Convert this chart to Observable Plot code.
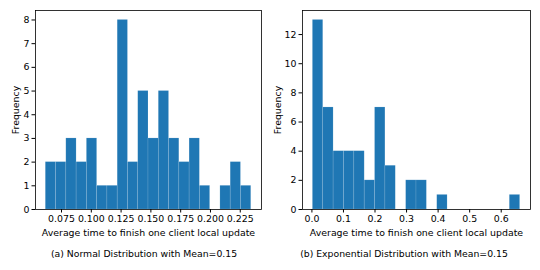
<!DOCTYPE html>
<html>
<head>
<meta charset="utf-8">
<script src="https://cdn.jsdelivr.net/npm/d3@7"></script>
<script src="https://cdn.jsdelivr.net/npm/@observablehq/plot@0.6"></script>
<style>
  html, body { margin: 0; padding: 0; background: #fff; }
  #wrap { position: relative; width: 540px; height: 270px; font-family: "DejaVu Sans", sans-serif; }
  .panel { position: absolute; top: 0; }
  .cap { position: absolute; top: 248px; font-size: 9.3px; color: #000; white-space: nowrap; transform: translateX(-50%); }
  svg { overflow: visible; }
</style>
</head>
<body>
<div id="wrap">
  <div class="panel" id="p1" style="left:0px"></div>
  <div class="panel" id="p2" style="left:270px"></div>
  <div class="cap" style="left:144px">(a) Normal Distribution with Mean=0.15</div>
  <div class="cap" style="left:404px">(b) Exponential Distribution with Mean=0.15</div>
</div>
<script>
// Panel (a): normal distribution histogram, 20 equal bins
const normalRange = [0.0618, 0.2342];
const normalCounts = [2, 2, 3, 2, 3, 1, 1, 8, 2, 5, 3, 5, 3, 2, 3, 1, 0, 1, 2, 1];
const normalTicksX = [0.075, 0.100, 0.125, 0.150, 0.175, 0.200, 0.225];
const normalTicksY = [0, 1, 2, 3, 4, 5, 6, 7, 8];

// Panel (b): exponential distribution histogram, 20 equal bins
const expRange = [0.003, 0.660];
const expCounts = [13, 7, 4, 4, 4, 2, 7, 3, 0, 2, 2, 0, 1, 0, 0, 0, 0, 0, 0, 1];
const expTicksX = [0.0, 0.1, 0.2, 0.3, 0.4, 0.5, 0.6];
const expTicksY = [0, 2, 4, 6, 8, 10, 12];

const xLabel = "Average time to finish one client local update";
const yLabel = "Frequency";

function bins(range, counts) {
  const w = (range[1] - range[0]) / counts.length;
  return counts.map((c, i) => ({x1: range[0] + i * w, x2: range[0] + (i + 1) * w, y: c}))
               .filter(d => d.y > 0);
}

function hist(range, counts, ticksX, ticksY, fmt, opts) {
  const data = bins(range, counts);
  const span = range[1] - range[0];
  const ymax = d3.max(counts) * 1.05;
  return Plot.plot({
    width: 270,
    height: 240,
    marginLeft: opts.ml,
    marginRight: opts.mr,
    marginTop: 10,
    marginBottom: 31,
    style: {fontFamily: "DejaVu Sans, sans-serif", fontSize: "9.4px", color: "#000", background: "white"},
    x: {domain: [range[0] - 0.05 * span, range[1] + 0.05 * span]},
    y: {domain: [0, ymax]},
    marks: [
      Plot.rectY(data, {x1: "x1", x2: "x2", y: "y", fill: "#1f77b4", stroke: "#ffffff", strokeOpacity: 0.2, strokeWidth: 0.6, inset: 0}),
      Plot.axisX({ticks: ticksX, tickFormat: fmt, tickSize: 3.5, tickPadding: 2.5, label: xLabel, labelAnchor: "center", labelArrow: "none", labelOffset: 26, stroke: "#000"}),
      Plot.axisY({ticks: ticksY, tickFormat: d3.format("d"), tickSize: 3.5, tickPadding: 2.5, label: yLabel, labelAnchor: "center", labelArrow: "none", labelOffset: opts.lo, stroke: "#000"}),
      Plot.frame({stroke: "#000", strokeWidth: 0.8})
    ]
  });
}

document.getElementById("p1").appendChild(
  hist(normalRange, normalCounts, normalTicksX, normalTicksY, d3.format(".3f"), {ml: 35, mr: 9, lo: 23}));
document.getElementById("p2").appendChild(
  hist(expRange, expCounts, expTicksX, expTicksY, d3.format(".1f"), {ml: 32, mr: 10, lo: 28}));
</script>
</body>
</html>
